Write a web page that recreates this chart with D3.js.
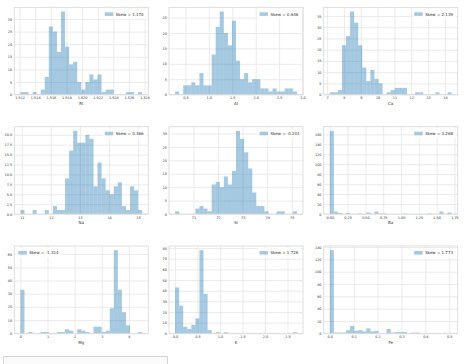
<!DOCTYPE html>
<html><head><meta charset="utf-8">
<script src="https://cdn.jsdelivr.net/npm/d3@7"></script>
<style>
html,body{margin:0;padding:0;background:#fff;}
svg{display:block;font-family:"DejaVu Sans",sans-serif;}
</style></head>
<body><svg id="c" width="467" height="364"></svg>
<script>
// ---- data ----
const features = ["RI", "Al", "Ca", "Na", "Si", "Ba", "Mg", "K", "Fe"];
const skewLabels = ["Skew = 1.170", "Skew = 0.646", "Skew = 2.139", "Skew = 0.366", "Skew = -0.201",
                    "Skew = 3.268", "Skew = -1.314", "Skew = 1.726", "Skew = 1.773"];
const dataRanges = [[1.5121, 1.5277], [0.28, 2.88], [7.16, 14.40], [10.95, 15.14], [70.25, 75.21],
                    [0, 1.71], [0, 4.49], [0, 2.71], [0, 0.51]];
const countsRI = [1,1,0,1,0,2,7,27,25,17,33,19,12,13,5,2,5,8,6,8,1,2,2,0,0,0,1,1,0,1];
const countsAl = [1,0,3,3,4,3,7,3,3,13,22,27,20,16,24,11,5,7,4,5,5,2,2,1,2,1,1,2,2,1];
const countsCa = [1,1,2,22,26,37,32,22,12,6,11,7,5,0,1,2,3,3,3,0,0,1,1,0,0,0,1,0,0,1];
const countsNa = [1,0,0,1,0,0,1,0,2,1,1,9,16,21,18,18,20,19,7,13,9,6,5,7,8,2,1,7,6,1];
const countsSi = [1,0,0,0,0,2,3,2,1,11,12,10,14,11,16,31,28,23,17,8,3,3,1,0,0,1,1,0,0,1];
const countsBa = [167,5,2,0,2,0,0,1,0,3,0,5,1,1,0,0,0,0,1,0,0,0,0,0,1,0,0,5,0,3];
const countsMg = [33,0,1,0,0,1,1,0,0,1,1,3,2,0,3,2,1,0,5,5,1,2,19,63,33,16,6,0,0,1];
const countsK  = [43,26,6,4,8,14,78,37,3,0,1,0,1,0,0,0,0,0,0,0,0,0,0,0,0,0,0,0,0,1];
const countsFe = [135,1,1,1,5,12,4,5,3,8,3,4,0,0,7,1,2,2,2,0,1,1,0,0,0,0,0,0,0,0];
const xTickValues = [
  [1.512,1.514,1.516,1.518,1.520,1.522,1.524,1.526,1.528],
  [0.5,1.0,1.5,2.0,2.5,3.0],
  [7,8,9,10,11,12,13,14],
  [11,12,13,14,15],
  [71,72,73,74,75],
  [0,0.25,0.5,0.75,1.0,1.25,1.5,1.75],
  [0,1,2,3,4],
  [0,0.5,1.0,1.5,2.0,2.5],
  [0,0.1,0.2,0.3,0.4,0.5]
];
const yTickValues = [
  [0,5,10,15,20,25,30],
  [0,5,10,15,20,25],
  [0,5,10,15,20,25,30,35],
  [0,2.5,5,7.5,10,12.5,15,17.5,20],
  [0,5,10,15,20,25,30],
  [0,20,40,60,80,100,120,140,160],
  [0,10,20,30,40,50,60],
  [0,10,20,30,40,50,60,70,80],
  [0,20,40,60,80,100,120,140]
];
const xFormats = [".3f", ".1f", "d", "d", "d", ".2f", "d", ".1f", ".1f"];
const yFormats = ["d", "d", "d", ".1f", "d", "d", "d", "d", "d"];
const legendLeft = [false, false, false, false, false, false, true, false, false];

const allCounts = [countsRI, countsAl, countsCa, countsNa, countsSi, countsBa, countsMg, countsK, countsFe];

// ---- layout ----
const colLefts = [14.3, 169, 323.7];
const rowTops = [7.3, 126.7, 246];
const PW = 134, PH = 87.3;

const svg = d3.select("#c");

// bottom-left output box (page element)
svg.append("rect").attr("x", 3.5).attr("y", 356.5).attr("width", 164).attr("height", 20)
  .attr("fill", "#fbfbfb").attr("stroke", "#d4d4d4").attr("stroke-width", 1);

features.forEach((name, k) => {
  const c = k % 3, r = Math.floor(k / 3);
  const x0 = colLefts[c], y0 = rowTops[r];
  const counts = allCounts[k];
  const [lo, hi] = dataRanges[k];
  const span = hi - lo, m = span * 0.05;
  const nb = counts.length, bw = span / nb;
  const ymax = d3.max(counts) * 1.05;

  const x = d3.scaleLinear().domain([lo - m, hi + m]).range([0, PW]);
  const y = d3.scaleLinear().domain([0, ymax]).range([PH, 0]);

  const g = svg.append("g").attr("transform", `translate(${x0},${y0})`);

  // grid
  const xa = d3.axisBottom(x).tickValues(xTickValues[k]).tickSize(-PH).tickPadding(2.2)
    .tickFormat(d3.format(xFormats[k]));
  const ya = d3.axisLeft(y).tickValues(yTickValues[k]).tickSize(-PW).tickPadding(2.2)
    .tickFormat(d3.format(yFormats[k]));

  const gx = g.append("g").attr("transform", `translate(0,${PH})`).call(xa);
  const gy = g.append("g").call(ya);
  [gx, gy].forEach(a => {
    a.select(".domain").remove();
    a.selectAll(".tick line").attr("stroke", "#e6e6e6").attr("stroke-width", 0.8);
    a.selectAll(".tick text").attr("fill", "#333").attr("font-size", 3.4)
      .attr("font-family", "DejaVu Sans, sans-serif");
  });

  // bars
  g.append("g").selectAll("rect").data(counts.map((v, i) => ({i, v})).filter(d => d.v > 0))
    .join("rect")
    .attr("x", d => x(lo + d.i * bw))
    .attr("width", d => x(lo + (d.i + 1) * bw) - x(lo + d.i * bw))
    .attr("y", d => y(d.v))
    .attr("height", d => PH - y(d.v))
    .attr("fill", "#1f77b4").attr("fill-opacity", 0.4);

  // frame
  g.append("rect").attr("x", 0).attr("y", 0).attr("width", PW).attr("height", PH)
    .attr("fill", "none").attr("stroke", "#d6d6d6").attr("stroke-width", 0.8);

  // axis label
  g.append("text").attr("x", PW / 2).attr("y", PH + 10.5).attr("text-anchor", "middle")
    .attr("font-size", 4).attr("fill", "#333").text(name);

  // legend
  const lw = 44, lh = 10;
  const lx = legendLeft[k] ? 2 : PW - lw - 1.5;
  const lg = g.append("g").attr("transform", `translate(${lx},2)`);
  lg.append("rect").attr("width", lw).attr("height", lh).attr("fill", "#fff").attr("fill-opacity", 0.85);
  lg.append("rect").attr("x", 2).attr("y", 3).attr("width", 8.5).attr("height", 3.6)
    .attr("fill", "#1f77b4").attr("fill-opacity", 0.4);
  lg.append("text").attr("x", 13).attr("y", 6.4).attr("font-size", 4).attr("fill", "#333")
    .text(skewLabels[k]);
});
</script>
</body></html>
